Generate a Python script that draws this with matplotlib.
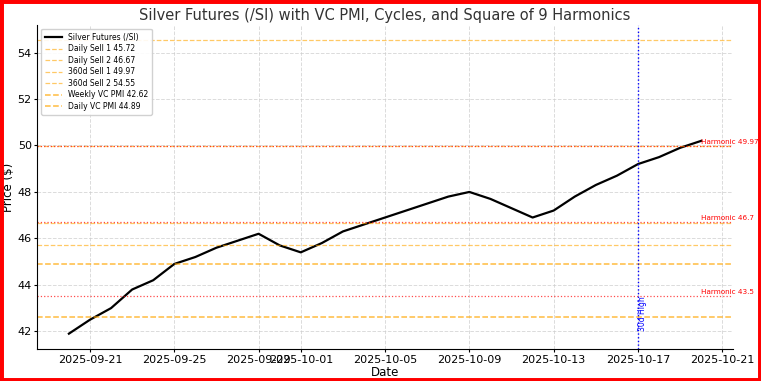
import matplotlib
matplotlib.use("Agg")
import matplotlib.pyplot as plt
import matplotlib.dates as mdates
from matplotlib.patches import Rectangle
import pandas as pd

dates = pd.date_range("2025-09-20", "2025-10-20", freq="D")
prices = [41.9, 42.5, 43.0, 43.8, 44.2, 44.9, 45.2, 45.6, 45.9, 46.2,
          45.7, 45.4, 45.8, 46.3, 46.6, 46.9, 47.2, 47.5, 47.8, 48.0,
          47.7, 47.3, 46.9, 47.2, 47.8, 48.3, 48.7, 49.2, 49.5, 49.9, 50.2]

level_names = ["Daily Sell 1", "Daily Sell 2", "360d Sell 1", "360d Sell 2",
               "Weekly VC PMI", "Daily VC PMI"]
level_values = [45.72, 46.67, 49.97, 54.55, 42.62, 44.89]

harmonics = [43.5, 46.7, 49.97]
cycle_date = pd.Timestamp("2025-10-17")
cycle_label = "30d High"

fig = plt.figure(figsize=(7.61, 3.81), dpi=100)
ax = fig.add_axes([0.049, 0.084, 0.914, 0.85])

ax.plot(dates, prices, color="black", lw=1.6, label="Silver Futures (/SI)")

for name, val in zip(level_names, level_values):
    if "VC PMI" in name:
        ax.axhline(val, color="orange", ls="--", lw=1.1, alpha=0.75,
                   label=f"{name} {val}")
    else:
        ax.axhline(val, color="orange", ls="--", lw=0.9, alpha=0.6,
                   label=f"{name} {val}")

for h in harmonics:
    ax.axhline(h, color="red", ls=":", lw=0.9, alpha=0.7)
    ax.text(dates[-1], h + 0.05, f"Harmonic {h}", color="red", fontsize=5.2,
            va="bottom", ha="left", clip_on=False)

ax.axvline(cycle_date, color="blue", ls=":", lw=1.0)
ax.text(cycle_date, 42.0, cycle_label, color="blue", fontsize=5.5,
        rotation=90, ha="left", va="bottom")

ax.set_ylim(41.24, 55.18)
ax.set_xlim(pd.Timestamp("2025-09-18 12:00"), pd.Timestamp("2025-10-21 12:00"))
ax.xaxis.set_major_locator(mdates.DayLocator(bymonthday=[1, 5, 9, 13, 17, 21, 25, 29]))
ax.xaxis.set_major_formatter(mdates.DateFormatter("%Y-%m-%d"))

ax.grid(True, ls="--", color="#cccccc", alpha=0.7, lw=0.7)
ax.set_title("Silver Futures (/SI) with VC PMI, Cycles, and Square of 9 Harmonics",
             fontsize=10.5, color="#333333", pad=4)
ax.set_xlabel("Date", fontsize=8.5, labelpad=1)
ax.set_ylabel("Price ($)", fontsize=8.5, labelpad=2)
ax.tick_params(labelsize=8, length=2.5, pad=1.5)
for s in ["top", "right"]:
    ax.spines[s].set_visible(False)
ax.legend(loc="upper left", fontsize=5.5, frameon=True, framealpha=0.9,
          borderpad=0.5, labelspacing=0.33, handlelength=2.2)

fig.patches.append(Rectangle((0, 0), 1, 1, transform=fig.transFigure,
                             fill=False, edgecolor="red", lw=5, zorder=10))

fig.savefig("out.png", dpi=100)
